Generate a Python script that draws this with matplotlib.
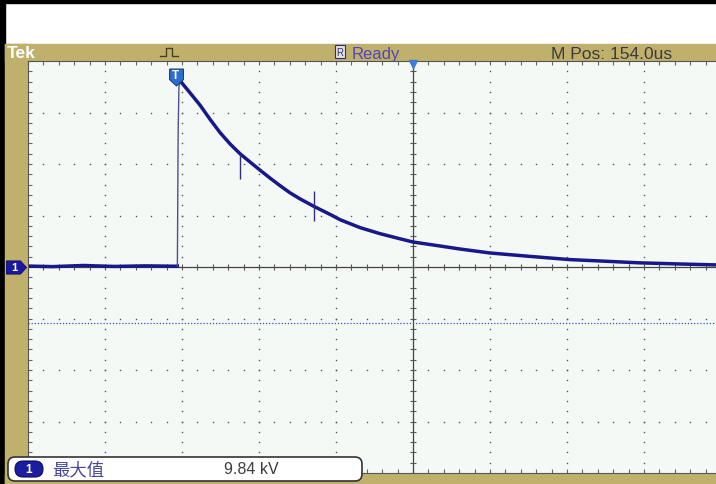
import numpy as np
import matplotlib
matplotlib.use("Agg")
import matplotlib.pyplot as plt
from matplotlib.patches import Rectangle, FancyBboxPatch

plt.rcParams['font.family'] = ['Liberation Sans', 'Noto Sans CJK SC', 'DejaVu Sans']

# scope settings
HDIV = 50.0       # us per division
VDIV = 2.72       # kV per division
T_CENTER = 154.0  # horizontal position (us after trigger)
TRIG_LEVEL = -2.96  # kV

# channel 1 trace, time in us, voltage in kV
time_us = [-96, -80, -60, -40, -20, 0, 1.0,
           1.5, 2.0, 2.7,
           9.2, 15.7, 22.2, 28.7, 35.2, 41.7, 48.1, 54.6, 61.1, 67.6,
           74.1, 80.6, 89.7, 100.1, 106.6, 119.6, 132.6, 145.6, 154.0, 171.5,
           184.5, 204.0, 230.0, 256.0, 275.0, 301.0, 327.0, 351.0, 380.0, 404.0]
volts_kv = [0.05, 0.02, 0.08, 0.03, 0.06, 0.04, 0.05,
            7.14, 9.50, 9.84,
            9.20, 8.55, 7.80, 7.10, 6.50, 5.98, 5.55, 5.12, 4.70, 4.30,
            3.92, 3.60, 3.20, 2.78, 2.50, 2.08, 1.76, 1.49, 1.32, 1.11,
            0.95, 0.74, 0.56, 0.39, 0.32, 0.22, 0.16, 0.11, 0.09, 0.08]

# short glitches on the decay
spike_t = [41.7, 89.7]
spike_lo = [4.65, 2.43]
spike_hi = [5.98, 4.02]

TAN = '#bfb06b'
TRACE = '#18188a'
W, H = 716, 485

fig = plt.figure(figsize=(W / 100, H / 100), dpi=100)
fig.patch.set_facecolor('white')

# background layer in pixel coordinates
bg = fig.add_axes([0, 0, 1, 1], zorder=-1)
bg.set_xlim(0, W)
bg.set_ylim(H, 0)
bg.axis('off')
bg.add_patch(Rectangle((0, 0), W, 3.5, color='black'))
bg.add_patch(Rectangle((0, 0), 5, H, color='black'))
bg.add_patch(Rectangle((5, 45), W - 5, 17, color=TAN))
bg.add_patch(Rectangle((5, 45), 22, H - 45, color=TAN))
bg.add_patch(Rectangle((5, 475), W - 5, 10, color=TAN))
bg.text(7, 53, 'Tek', color='white', fontsize=12.5, fontweight='bold', ha='left', va='center')
bg.plot([160, 166, 166, 172, 172, 178], [57, 57, 49, 49, 57, 57], color='#4a4020', lw=1)
bg.text(340, 52.5, 'R', fontsize=7, color='#2a2a9a', ha='center', va='center',
        bbox=dict(boxstyle='square,pad=0.15', fc='#e8e4d0', ec='#2a2a9a', lw=0.8))
bg.text(352, 59, 'Ready', color='#5545b5', fontsize=12, ha='left', va='baseline')
bg.text(551, 59, 'M Pos: {:.1f}us'.format(T_CENTER), color='#3c3c3c', fontsize=12.5,
        ha='left', va='baseline')

# graticule
ax = fig.add_axes([28 / W, (H - 474) / H, 770 / W, 412 / H], zorder=0)
ax.set_facecolor('#f4f9f6')
x0, x1 = T_CENTER - 5 * HDIV, T_CENTER + 5 * HDIV
ax.set_xlim(x0, x1)
ax.set_ylim(-4 * VDIV, 4 * VDIV)

xminor = np.arange(x0, x1 + 1e-6, 0.2 * HDIV)
yminor = np.arange(-4 * VDIV, 4 * VDIV + 1e-6, 0.2 * VDIV)
ax.set_xticks(xminor)
ax.set_yticks(yminor)
ax.tick_params(direction='in', length=3, width=0.8, colors='#666666',
               top=True, right=True, labelbottom=False, labelleft=False)
for s in ax.spines.values():
    s.set_color('#555555')
    s.set_linewidth(0.8)

for k in range(-4, 5):
    if k == 0:
        continue
    xv = T_CENTER + k * HDIV
    ax.plot(np.full(len(yminor), xv), yminor, ls='none', marker='s', ms=1.0,
            mew=0, color='#555555')
for m in range(-3, 4):
    if m == 0:
        continue
    ax.plot(xminor, np.full(len(xminor), m * VDIV), ls='none', marker='s', ms=1.0,
            mew=0, color='#555555')

ax.axvline(T_CENTER, color='#444444', lw=0.9)
ax.axhline(0, color='#444444', lw=0.9)
ax.plot(xminor, np.zeros(len(xminor)), ls='none', marker='|', ms=5, mew=0.8, color='#555555')
ax.plot(np.full(len(yminor), T_CENTER), yminor, ls='none', marker='_', ms=5, mew=0.8,
        color='#555555')

ax.axhline(TRIG_LEVEL, color='#3a4fd0', lw=0.9, ls=(0, (1, 1.5)))

# trace: fast edge drawn thin, the rest thick
t = np.array(time_us)
v = np.array(volts_kv)
i_peak = int(np.argmax(v))
i_rise = i_peak - 3
ax.plot(t[:i_rise + 1], v[:i_rise + 1], color=TRACE, lw=2.5, solid_joinstyle='round')
ax.plot(t[i_rise:i_peak + 1], v[i_rise:i_peak + 1], color='#50508c', lw=1.0)
ax.plot(t[i_peak:], v[i_peak:], color=TRACE, lw=2.5, solid_joinstyle='round')
ax.vlines(spike_t, spike_lo, spike_hi, color='#30307a', lw=1.0)

# trigger marker
xtr = ax.get_xaxis_transform()
pent = [(-0.41, 0.5), (0.41, 0.5), (0.41, -0.12), (0, -0.5), (-0.41, -0.12), (-0.41, 0.5)]
ax.plot([0], [0.96], transform=xtr, marker=pent, ms=12.2, mfc='#2c70cf', mec='#1a3f8f',
        mew=0.8, clip_on=False, zorder=5)
ax.text(0, 0.966, 'T', transform=xtr, color='white', fontsize=8.5, fontweight='bold',
        ha='center', va='center', zorder=6, clip_on=False)
# horizontal position marker
ax.plot([T_CENTER], [0.993], transform=xtr, marker='v', ms=6, mfc='#3b7ddb', mec='#3b7ddb',
        clip_on=False, zorder=5)

# channel 1 ground marker
ytr = ax.get_yaxis_transform()
arrow = [(-0.5, 0.33), (0.2, 0.33), (0.5, 0), (0.2, -0.33), (-0.5, -0.33), (-0.5, 0.33)]
ax.plot([-0.0156], [0], transform=ytr, marker=arrow, ms=14.4, mfc='#1a1aa0', mec='#0c0c70',
        mew=0.6, clip_on=False, zorder=5)
ax.text(-0.018, 0, '1', transform=ytr, color='white', fontsize=8, fontweight='bold',
        ha='center', va='center', zorder=6, clip_on=False)

# measurement readout
fg = fig.add_axes([0, 0, 1, 1], zorder=2)
fg.set_xlim(0, W)
fg.set_ylim(H, 0)
fg.axis('off')
fg.add_patch(FancyBboxPatch((8, 458), 354, 24, boxstyle='round,pad=0,rounding_size=7',
                            fc='white', ec='#333333', lw=1.2))
fg.add_patch(FancyBboxPatch((15, 462), 28, 16, boxstyle='round,pad=0,rounding_size=8',
                            fc='#1c1ca0', ec='#0a0a60', lw=0.8))
fg.text(29, 470, '1', color='white', fontsize=8.5, fontweight='bold', ha='center', va='center')
fg.text(52, 470, '最大值', color='#45459a', fontsize=12.5, ha='left', va='center',
        family=['Noto Sans CJK SC', 'DejaVu Sans'])
fg.text(224, 470, '{:.2f} kV'.format(max(volts_kv)), color='#3c3c3c', fontsize=11.5,
        ha='left', va='center')

fig.savefig('out.png', dpi=100)
